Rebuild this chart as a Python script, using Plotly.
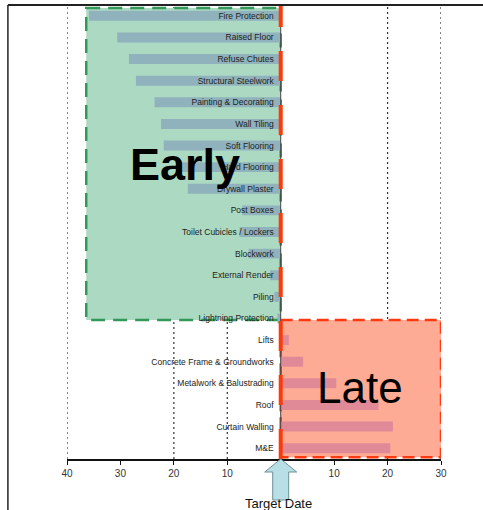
import plotly.graph_objects as go

categories = [
    "Fire Protection", "Raised Floor", "Refuse Chutes", "Structural Steelwork",
    "Painting & Decorating", "Wall Tiling", "Soft Flooring", "Hard Flooring",
    "Drywall Plaster", "Post Boxes", "Toilet Cubicles / Lockers", "Blockwork",
    "External Render", "Piling", "Lightning Protection",
    "Lifts", "Concrete Frame & Groundworks", "Metalwork & Balustrading",
    "Roof", "Curtain Walling", "M&E",
]
days_variance = [
    -35.9, -30.6, -28.4, -27.1, -23.6, -22.4, -21.9, -19.5,
    -17.4, -7.2, -7.7, -6.0, -2.0, -1.2, -0.6,
    1.5, 4.2, 10.4, 18.3, 21.0, 20.5,
]
x_tick_vals = [-40, -30, -20, -10, 0, 10, 20, 30]
x_tick_text = ["40", "30", "20", "10", "", "10", "20", "30"]
grid_vals = [-40, -20, -10, 20, 30]

early_bar = "#8fb2bd"
late_bar = "#e08a98"
bar_colors = [early_bar if v < 0 else late_bar for v in days_variance]

fig = go.Figure()
fig.add_trace(go.Bar(
    x=days_variance, y=categories, orientation="h",
    marker=dict(color=bar_colors, line=dict(width=0)),
    width=0.46, hoverinfo="x+y", showlegend=False,
))

shapes = []
# Early / Late zones
shapes.append(dict(type="rect", xref="x", yref="y", x0=-36.4, x1=0, y0=-0.36, y1=14.07,
                   fillcolor="#acd9c1", line=dict(color="#33995a", width=2.5, dash="14px,8px"),
                   layer="below"))
shapes.append(dict(type="rect", xref="x", yref="y", x0=0, x1=30, y0=14.07, y1=20.42,
                   fillcolor="#fdab95", line=dict(color="#ff3a12", width=2.5, dash="12px,6px"),
                   layer="below"))
# dotted gridlines
for g in grid_vals:
    shapes.append(dict(type="line", xref="x", yref="paper", x0=g, x1=g, y0=0, y1=1,
                       line=dict(color="#333333", width=1.2, dash="2px,3px"), layer="below"))
# zero / target line
shapes.append(dict(type="line", xref="x", yref="paper", x0=0, x1=0, y0=0, y1=1,
                   line=dict(color="#444444", width=1), layer="above"))
shapes.append(dict(type="line", xref="x", yref="paper", x0=0, x1=0, y0=0, y1=1,
                   line=dict(color="#ff3a0a", width=4, dash="30px,24px"), layer="above"))
# page frame lines
shapes.append(dict(type="line", xref="paper", yref="paper", x0=-0.158, x1=1.12, y0=1.0, y1=1.0,
                   line=dict(color="#222222", width=2)))
shapes.append(dict(type="line", xref="paper", yref="paper", x0=-0.158, x1=-0.158, y0=1.0, y1=-0.12,
                   line=dict(color="#222222", width=1.5)))
# target arrow
shapes.append(dict(type="path", xref="x", yref="paper", xsizemode="pixel", ysizemode="pixel",
                   xanchor=0, yanchor=0,
                   path="M 0 0 L 16 -13 L 8 -13 L 8 -41 L -8 -41 L -8 -13 L -16 -13 Z",
                   fillcolor="#b8dfe5", line=dict(color="#6f8f96", width=1)))

fig.update_layout(
    width=483, height=510,
    margin=dict(l=67, r=42, t=5, b=51),
    paper_bgcolor="white", plot_bgcolor="white",
    shapes=shapes,
    bargap=0.5,
    xaxis=dict(range=[-40, 30], tickvals=x_tick_vals, ticktext=x_tick_text,
               showgrid=False, zeroline=False, showline=True, linecolor="#111111", linewidth=1.5,
               ticks="outside", ticklen=4, tickcolor="#111111",
               tickfont=dict(family="Liberation Sans, Arial", size=10, color="#333333")),
    yaxis=dict(categoryorder="array", categoryarray=categories,
               range=[20.5, -0.5], anchor="free", position=4 / 7,
               showgrid=False, zeroline=False, showline=False, ticks="",
               ticklabelstandoff=7,
               tickfont=dict(family="Liberation Sans, Arial", size=8.5, color="#222222")),
    annotations=[
        dict(x=-18, y=6.9, xref="x", yref="y", text="<b>Early</b>", showarrow=False,
             font=dict(family="Liberation Sans, Arial", size=45, color="#000000")),
        dict(x=14.8, y=17.2, xref="x", yref="y", text="Late", showarrow=False,
             font=dict(family="Liberation Sans, Arial", size=44, color="#000000")),
        dict(x=0, y=-0.12, xref="x", yref="paper", text="Target Date", showarrow=False,
             xshift=-2, font=dict(family="Liberation Sans, Arial", size=13, color="#111111")),
    ],
)

fig.write_html("out.html", config={"displayModeBar": False},
               post_script="document.body.style.margin='0';")
